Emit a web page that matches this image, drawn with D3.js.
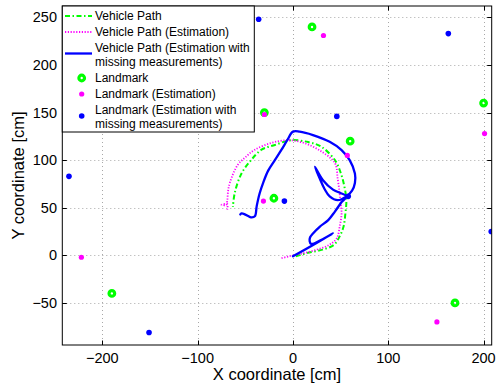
<!DOCTYPE html>
<html><head><meta charset="utf-8">
<script src="https://cdn.jsdelivr.net/npm/d3@7"></script>
<style>body{margin:0;background:#fff}svg{display:block;font-family:"Liberation Sans",Arial,sans-serif}</style>
</head><body>
<svg id="c" width="498" height="385"></svg>
<script>
// ---- data ----
const xTicks = [-200, -100, 0, 100, 200];
const yTicks = [-50, 0, 50, 100, 150, 200, 250];
const vehiclePath = [[3,-1],[17,3],[31,6],[43,11],[49,20],[53,30],[55,44],[56,58],[54,72],[50,87],[44,100],[30,114],[16,119],[-2,121],[-19,116],[-33,111],[-44,100],[-54,86],[-61,66],[-63,51]];
const vehicleEst = [[-12,-3],[-4,-1],[10,2],[25,6],[38,11],[46,18],[49,30],[51,44],[50,55],[49,65],[47,80],[44,97],[30,109],[12,118],[-5,121],[-23,118],[-40,111],[-50,103],[-58,95],[-66,77],[-68,68],[-69,57],[-70,53],[-75,53],[-69,54],[-69,48]];
const vehicleEstMissing = [[0,-1],[42,23],[19,12],[17.5,15],[18,19],[21,23],[28,30],[37,37],[44,46],[51,56],[56,62],[42,69],[31.5,79],[23,93],[28,81],[33,70],[38.5,62],[47,58],[56,62],[62,68],[65,76],[65,86],[59.5,100],[51,110.6],[38.5,119.3],[21,126.4],[7,130],[0,130],[-6,121],[-12,111],[-19,100],[-26,89],[-31,77],[-35,65],[-38,52],[-40,41],[-44,40],[-47,41.3],[-51,43.4],[-54,44],[-55.3,43]];
const landmarks = [[-30,150],[20,240],[200,160],[60,120],[-20,60],[170,-50],[-190,-40]];
const landmarksEst = [[-30,148],[32,231],[201,128],[57,105],[-31,57],[151,-70],[-222,-2]];
const landmarksEstMissing = [[-36,248],[163,233],[46,146],[208,25],[-151,-81],[-235,83],[-241,146],[-9,57],[58,62]];
const legendLabels = ["Vehicle Path","Vehicle Path (Estimation)","Vehicle Path (Estimation with|missing measurements)","Landmark","Landmark (Estimation)","Landmark (Estimation with|missing measurements)"];

// ---- chart ----
const svg = d3.select("#c");
const L = 62.3, R = 491.7, T = 6, B = 345;
const x = d3.scaleLinear().domain([-242, 208.5]).range([L, R]);
const y = d3.scaleLinear().domain([-94.2, 262]).range([B, T]);

svg.append("defs").append("clipPath").attr("id","clip")
  .append("rect").attr("x",L).attr("y",T).attr("width",R-L).attr("height",B-T);

// grid
const grid = svg.append("g").attr("stroke","#a8a8a8").attr("stroke-width",1).attr("stroke-dasharray","1,3");
grid.selectAll(".gx").data(xTicks).join("line")
  .attr("x1",d=>Math.round(x(d))+0.5).attr("x2",d=>Math.round(x(d))+0.5).attr("y1",T).attr("y2",B);
grid.selectAll(".gy").data(yTicks).join("line")
  .attr("y1",d=>Math.round(y(d))+0.5).attr("y2",d=>Math.round(y(d))+0.5).attr("x1",L).attr("x2",R);

const plot = svg.append("g").attr("clip-path","url(#clip)");
const line = d3.line().x(d=>x(d[0])).y(d=>y(d[1])).curve(d3.curveCatmullRom.alpha(0.5));

plot.append("path").attr("d",line(vehiclePath)).attr("fill","none")
  .attr("stroke","#00ff00").attr("stroke-width",2).attr("stroke-dasharray","5,2.5,1.5,2.5");
plot.append("path").attr("d",line(vehicleEst)).attr("fill","none")
  .attr("stroke","#ff00ff").attr("stroke-width",1.8).attr("stroke-dasharray","1.2,1.6");
plot.append("path").attr("d",line(vehicleEstMissing)).attr("fill","none")
  .attr("stroke","#0000ff").attr("stroke-width",2.3).attr("stroke-linejoin","round").attr("stroke-linecap","round");

plot.selectAll(".lm").data(landmarks).join("circle")
  .attr("cx",d=>x(d[0])).attr("cy",d=>y(d[1])).attr("r",2.8)
  .attr("fill","none").attr("stroke","#00ff00").attr("stroke-width",3.2);
plot.selectAll(".le").data(landmarksEst).join("circle")
  .attr("cx",d=>x(d[0])).attr("cy",d=>y(d[1])).attr("r",2.6).attr("fill","#ff00ff");
plot.selectAll(".lb").data(landmarksEstMissing).join("circle")
  .attr("cx",d=>x(d[0])).attr("cy",d=>y(d[1])).attr("r",2.8).attr("fill","#0000ff");

// frame & ticks
const ax = svg.append("g").attr("stroke","#000").attr("stroke-width",1);
ax.append("rect").attr("x",L).attr("y",T).attr("width",R-L).attr("height",B-T).attr("fill","none");
const tl = 4.5;
xTicks.forEach(t=>{
  const px = Math.round(x(t))+0.5;
  ax.append("line").attr("x1",px).attr("x2",px).attr("y1",B).attr("y2",B-tl);
  ax.append("line").attr("x1",px).attr("x2",px).attr("y1",T).attr("y2",T+tl);
});
yTicks.forEach(t=>{
  const py = Math.round(y(t))+0.5;
  ax.append("line").attr("y1",py).attr("y2",py).attr("x1",L).attr("x2",L+tl);
  ax.append("line").attr("y1",py).attr("y2",py).attr("x1",R).attr("x2",R-tl);
});
const fmt = d => d < 0 ? "\u2212" + Math.abs(d) : String(d);
svg.append("g").selectAll("text").data(xTicks).join("text")
  .attr("x",d=>x(d)).attr("y",363).attr("text-anchor","middle").attr("font-size",14.5).text(fmt);
svg.append("g").selectAll("text").data(yTicks).join("text")
  .attr("x",57).attr("y",d=>y(d)+5).attr("text-anchor","end").attr("font-size",14.5).text(fmt);
svg.append("text").attr("x",(L+R)/2).attr("y",380).attr("text-anchor","middle").attr("font-size",16.5).text("X coordinate [cm]");
svg.append("text").attr("transform",`translate(23.5,${(T+B)/2}) rotate(-90)`).attr("text-anchor","middle").attr("font-size",16.5).text("Y coordinate [cm]");

// legend
const lg = svg.append("g");
lg.append("rect").attr("x",L).attr("y",T).attr("width",192).attr("height",126).attr("fill","#fff").attr("stroke","#000").attr("stroke-width",1);
const rows = [16,32,48,78,94,110];
const sampleY = [16,32,53.5,78,94,116];
legendLabels.forEach((lab,i)=>{
  const parts = lab.split("|");
  const t = lg.append("text").attr("font-size",12).attr("x",95).attr("y",rows[i]+4.3);
  parts.forEach((p,j)=> t.append("tspan").attr("x",95).attr("dy",j?14:0).text(p));
});
lg.append("line").attr("x1",65).attr("x2",92).attr("y1",sampleY[0]).attr("y2",sampleY[0]).attr("stroke","#00ff00").attr("stroke-width",2).attr("stroke-dasharray","5,2.5,1.5,2.5");
lg.append("line").attr("x1",65).attr("x2",92).attr("y1",sampleY[1]).attr("y2",sampleY[1]).attr("stroke","#ff00ff").attr("stroke-width",1.8).attr("stroke-dasharray","1.2,1.6");
lg.append("line").attr("x1",65).attr("x2",92).attr("y1",sampleY[2]).attr("y2",sampleY[2]).attr("stroke","#0000ff").attr("stroke-width",2.3);
lg.append("circle").attr("cx",81.7).attr("cy",sampleY[3]).attr("r",2.8).attr("fill","none").attr("stroke","#00ff00").attr("stroke-width",3.2);
lg.append("circle").attr("cx",81.7).attr("cy",sampleY[4]).attr("r",2.6).attr("fill","#ff00ff");
lg.append("circle").attr("cx",81.7).attr("cy",sampleY[5]).attr("r",2.8).attr("fill","#0000ff");
</script>
</body></html>
